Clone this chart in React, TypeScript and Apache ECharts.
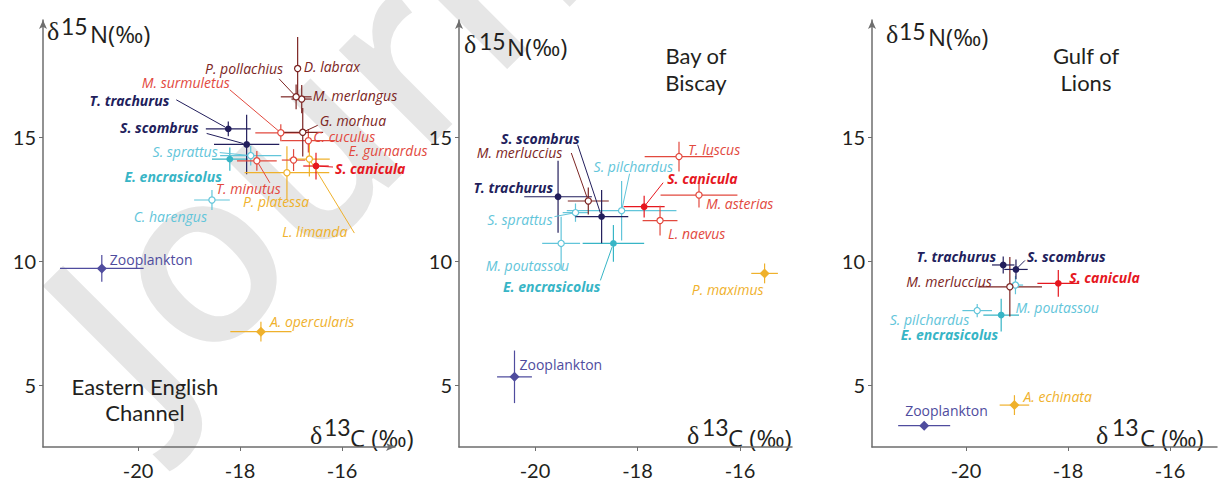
import React, { useEffect, useRef } from "react";
import * as echarts from "echarts";

// ---------- Data: Eastern English Channel ----------
const eecSpecies = ["Zooplankton", "A. opercularis", "C. harengus", "E. encrasicolus", "S. sprattus", "T. trachurus", "S. scombrus", "T. minutus", "P. platessa", "E. gurnardus", "L. limanda", "S. canicula", "C. cuculus", "M. surmuletus", "G. morhua", "M. merlangus", "P. pollachius", "D. labrax"];
const eecC13 = [-20.71, -17.59, -18.55, -18.2, -17.79, -18.23, -17.87, -17.67, -17.08, -16.95, -16.64, -16.51, -16.66, -17.2, -16.77, -16.79, -16.9, -16.87];
const eecN15 = [9.7, 7.15, 12.46, 14.11, 14.25, 15.33, 14.7, 14.04, 13.56, 14.07, 14.11, 13.83, 14.85, 15.17, 15.19, 16.53, 16.62, 17.76];
const eecSdC = [0.82, 0.6, 0.35, 0.35, 0.6, 0.44, 0.64, 0.39, 0.83, 0.23, 0.4, 0.25, 0.53, 0.5, 0.4, 0.2, 0.3, 0.0];
const eecSdN = [0.54, 0.4, 0.4, 0.47, 0.4, 0.3, 1.2, 0.4, 1.07, 0.44, 0.7, 0.54, 0.47, 0.34, 0.98, 0.57, 0.5, 1.27];

// ---------- Data: Bay of Biscay ----------
const bobSpecies = ["Zooplankton", "P. maximus", "M. poutassou", "E. encrasicolus", "S. sprattus", "S. pilchardus", "T. trachurus", "M. merluccius", "S. scombrus", "S. canicula", "L. naevus", "M. asterias", "T. luscus"];
const bobC13 = [-20.4, -15.52, -19.49, -18.47, -19.21, -18.31, -19.55, -18.96, -18.7, -17.87, -17.56, -16.8, -17.19];
const bobN15 = [5.33, 9.5, 10.71, 10.71, 11.95, 12.03, 12.59, 12.42, 11.79, 12.19, 11.63, 12.66, 14.21];
const bobSdC = [0.34, 0.26, 0.37, 0.6, 0.25, 1.07, 0.66, 0.4, 0.52, 0.4, 0.34, 0.75, 0.67];
const bobSdN = [1.06, 0.4, 1.07, 0.74, 0.37, 1.2, 1.45, 0.54, 1.07, 0.44, 0.6, 0.5, 0.6];

// ---------- Data: Gulf of Lions ----------
const golSpecies = ["Zooplankton", "A. echinata", "E. encrasicolus", "S. pilchardus", "M. poutassou", "M. merluccius", "S. canicula", "T. trachurus", "S. scombrus"];
const golC13 = [-20.82, -19.05, -19.31, -19.78, -19.03, -19.14, -18.19, -19.27, -19.02];
const golN15 = [3.36, 4.19, 7.82, 8.0, 9.03, 8.96, 9.1, 9.84, 9.66];
const golSdC = [0.51, 0.29, 0.35, 0.29, 0.15, 0.63, 0.41, 0.22, 0.23];
const golSdN = [0.0, 0.4, 0.66, 0.27, 0.37, 1.2, 0.54, 0.34, 0.4];

// ---------- Tick labels ----------
const xTicks = [-20, -18, -16];
const yTicks = [5, 10, 15];
const regionNames = [["Eastern English", "Channel"], ["Bay of", "Biscay"], ["Gulf of", "Lions"]];

// ---------- Styles ----------
const NAVY = "#221e5c";
const BROWN = "#7c2523";
const RED = "#e2493e";
const CANICULA = "#e6171f";
const LIGHTBLUE = "#62c5da";
const TEAL = "#37b5c6";
const GOLD = "#efb12c";
const PURPLE = "#4f4c9e";

type Sty = { color: string; marker: "open" | "dot" | "diamond"; bold?: boolean; plain?: boolean };
const speciesStyle: Record<string, Sty> = {
  "Zooplankton": { color: PURPLE, marker: "diamond", plain: true },
  "A. opercularis": { color: GOLD, marker: "diamond" },
  "A. echinata": { color: GOLD, marker: "diamond" },
  "P. maximus": { color: GOLD, marker: "diamond" },
  "P. platessa": { color: GOLD, marker: "open" },
  "L. limanda": { color: GOLD, marker: "open" },
  "C. harengus": { color: LIGHTBLUE, marker: "open" },
  "S. sprattus": { color: LIGHTBLUE, marker: "open" },
  "S. pilchardus": { color: LIGHTBLUE, marker: "open" },
  "M. poutassou": { color: LIGHTBLUE, marker: "open" },
  "E. encrasicolus": { color: TEAL, marker: "dot", bold: true },
  "T. trachurus": { color: NAVY, marker: "dot", bold: true },
  "S. scombrus": { color: NAVY, marker: "dot", bold: true },
  "S. canicula": { color: CANICULA, marker: "dot", bold: true },
  "T. minutus": { color: RED, marker: "open" },
  "E. gurnardus": { color: RED, marker: "open" },
  "C. cuculus": { color: RED, marker: "open" },
  "M. surmuletus": { color: RED, marker: "open" },
  "T. luscus": { color: RED, marker: "open" },
  "M. asterias": { color: RED, marker: "open" },
  "L. naevus": { color: RED, marker: "open" },
  "G. morhua": { color: BROWN, marker: "open" },
  "M. merlangus": { color: BROWN, marker: "open" },
  "P. pollachius": { color: BROWN, marker: "open" },
  "D. labrax": { color: BROWN, marker: "open" },
  "M. merluccius": { color: BROWN, marker: "open" },
};

// label layout: [dx, dy, align, leader start offset]
type Lab = [number, number, string, number[]?];
const eecLabels: Record<string, Lab> = {
  "Zooplankton": [8, -9, "left"],
  "A. opercularis": [9, -10, "left"],
  "C. harengus": [-5, 17, "right"],
  "E. encrasicolus": [-8, 17, "right"],
  "S. sprattus": [-33, -4, "right", [-31, -3]],
  "T. trachurus": [-59, -28, "right", [-52, -29]],
  "S. scombrus": [-48, -17, "right", [-40, -11]],
  "T. minutus": [24, 28, "right", [13, 22]],
  "P. platessa": [-44, 29, "left"],
  "E. gurnardus": [55, -10, "left"],
  "L. limanda": [38, 72, "right", [45, 74]],
  "S. canicula": [19, 2, "left", [17, 1]],
  "C. cuculus": [5, -4, "left"],
  "M. surmuletus": [-51, -50, "right", [-51, -43]],
  "G. morhua": [17, -12, "left", [15, -7]],
  "M. merlangus": [11, -4, "left"],
  "P. pollachius": [-13, -28, "right", [-17, -18]],
  "D. labrax": [6, -2, "left"],
};
const bobLabels: Record<string, Lab> = {
  "Zooplankton": [5, -12, "left"],
  "P. maximus": [-1, 16, "right"],
  "M. poutassou": [8, 22, "right"],
  "E. encrasicolus": [-13, 43, "right", [-13, 37]],
  "S. sprattus": [-23, 7, "right", [-21, 4]],
  "S. pilchardus": [-28, -44, "left", [8, -37]],
  "T. trachurus": [-5, -9, "right"],
  "M. merluccius": [-26, -48, "right", [-17, -48]],
  "S. scombrus": [-22, -78, "right", [-24, -72]],
  "S. canicula": [23, -28, "left", [19, -24]],
  "L. naevus": [8, 13, "left"],
  "M. asterias": [7, 8, "left"],
  "T. luscus": [9, -7, "left"],
};
const golLabels: Record<string, Lab> = {
  "Zooplankton": [-19, -15, "left"],
  "A. echinata": [9, -9, "left"],
  "E. encrasicolus": [-3, 19, "right"],
  "S. pilchardus": [-8, 9, "right"],
  "M. poutassou": [0, 22, "left"],
  "M. merluccius": [-18, -5, "right"],
  "S. canicula": [11, -6, "left"],
  "T. trachurus": [-7, -8, "right"],
  "S. scombrus": [11, -13, "left", [9, -9]],
};

const panels = [
  { sp: eecSpecies, c: eecC13, n: eecN15, sc: eecSdC, sn: eecSdN, labels: eecLabels, grid: { left: 43, top: 20, width: 352, height: 427 }, xMin: -21.863, xMax: -14.961, arrow: true },
  { sp: bobSpecies, c: bobC13, n: bobN15, sc: bobSdC, sn: bobSdN, labels: bobLabels, grid: { left: 459, top: 20, width: 333, height: 427 }, xMin: -21.483, xMax: -14.985, arrow: false },
  { sp: golSpecies, c: golC13, n: golN15, sc: golSdC, sn: golSdN, labels: golLabels, grid: { left: 872, top: 20, width: 345, height: 427 }, xMin: -21.843, xMax: -15.078, arrow: false },
];

const FONT = "Lato";
const LFONT = "'Open Sans'";
const AXIS_COLOR = "#6e6e6e";
const TEXT = "#231f20";

function buildOption() {
  const grids: any[] = [];
  const xAxes: any[] = [];
  const yAxes: any[] = [];
  const series: any[] = [];
  panels.forEach((p, i) => {
    grids.push({ ...p.grid, containLabel: false });
    xAxes.push({
      type: "value", gridIndex: i, min: p.xMin, max: p.xMax,
      axisLine: { show: true, onZero: false, lineStyle: { color: AXIS_COLOR, width: 1.5 }, symbol: p.arrow ? ["none", "arrow"] : ["none", "none"], symbolSize: [6, 9] },
      axisTick: { show: true, length: 4, customValues: xTicks, lineStyle: { color: AXIS_COLOR } },
      axisLabel: { customValues: xTicks, fontSize: 20, fontFamily: FONT, color: TEXT, margin: 13 },
      splitLine: { show: false },
    });
    yAxes.push({
      type: "value", gridIndex: i, min: 2.5, max: 19.718,
      axisLine: { show: true, onZero: false, lineStyle: { color: AXIS_COLOR, width: 1.5 }, symbol: ["none", "arrow"], symbolSize: [6, 9] },
      axisTick: { show: true, length: 4, customValues: yTicks, lineStyle: { color: AXIS_COLOR } },
      axisLabel: { customValues: yTicks, fontSize: 20, fontFamily: FONT, color: TEXT, margin: 7 },
      splitLine: { show: false },
    });
    const data = p.sp.map((_, k) => [p.c[k], p.n[k], p.sc[k], p.sn[k]]);
    // error bars
    series.push({
      type: "custom", xAxisIndex: i, yAxisIndex: i, data, clip: false, silent: true, z: 2,
      renderItem: (params: any, api: any) => {
        const name = p.sp[params.dataIndex];
        const col = speciesStyle[name].color;
        const x = api.value(0), y = api.value(1), sx = api.value(2), sy = api.value(3);
        const l = api.coord([x - sx, y]), r = api.coord([x + sx, y]);
        const t = api.coord([x, y + sy]), b = api.coord([x, y - sy]);
        const children: any[] = [];
        if (sx > 0) children.push({ type: "line", shape: { x1: l[0], y1: l[1], x2: r[0], y2: r[1] }, style: { stroke: col, lineWidth: 1.2 } });
        if (sy > 0) children.push({ type: "line", shape: { x1: t[0], y1: t[1], x2: b[0], y2: b[1] }, style: { stroke: col, lineWidth: 1.2 } });
        return { type: "group", children };
      },
    });
    // leaders + labels
    series.push({
      type: "custom", xAxisIndex: i, yAxisIndex: i, data, clip: false, silent: true, z: 3,
      renderItem: (params: any, api: any) => {
        const name = p.sp[params.dataIndex];
        const st = speciesStyle[name];
        const lab = p.labels[name];
        const c = api.coord([api.value(0), api.value(1)]);
        const children: any[] = [];
        if (lab[3]) {
          const sx = c[0] + lab[3][0], sy = c[1] + lab[3][1];
          const dx = sx - c[0], dy = sy - c[1];
          const d = Math.sqrt(dx * dx + dy * dy) || 1;
          children.push({ type: "line", shape: { x1: sx, y1: sy, x2: c[0] + (dx / d) * 3.5, y2: c[1] + (dy / d) * 3.5 }, style: { stroke: st.color, lineWidth: 1 } });
        }
        const font = st.plain ? `14px ${LFONT}` : st.bold ? `italic bold 14px ${LFONT}` : `italic 14px ${LFONT}`;
        children.push({ type: "text", style: { x: c[0] + lab[0], y: c[1] + lab[1], text: name, fill: st.color, font, textAlign: lab[2], textVerticalAlign: "middle" } });
        return { type: "group", children };
      },
    });
    // markers
    series.push({
      type: "custom", xAxisIndex: i, yAxisIndex: i, data, clip: false, silent: true, z: 4,
      renderItem: (params: any, api: any) => {
        const name = p.sp[params.dataIndex];
        const st = speciesStyle[name];
        const c = api.coord([api.value(0), api.value(1)]);
        if (st.marker === "diamond") {
          return { type: "polygon", shape: { points: [[c[0], c[1] - 5], [c[0] + 5, c[1]], [c[0], c[1] + 5], [c[0] - 5, c[1]]] }, style: { fill: st.color } };
        }
        if (st.marker === "dot") return { type: "circle", shape: { cx: c[0], cy: c[1], r: 3.4 }, style: { fill: st.color } };
        return { type: "circle", shape: { cx: c[0], cy: c[1], r: 3.1 }, style: { fill: "#fff", stroke: st.color, lineWidth: 1.2 } };
      },
    });
  });

  const graphic: any[] = [];
  // watermark
  graphic.push({ type: "text", x: 170, y: 445, rotation: Math.PI / 4, z: -100, silent: true, style: { text: "Journal Pre-proof", font: `600 245px 'Open Sans'`, fill: "#e6e6e6", textAlign: "left", textVerticalAlign: "bottom" } });

  const title = (dX: number, supX: number, restX: number, base: number, supBase: number, sup: string, rest: string) => {
    graphic.push({ type: "text", style: { x: dX, y: base, text: "δ", font: `26px 'Liberation Serif'`, fill: TEXT, textAlign: "left", textVerticalAlign: "bottom" } });
    graphic.push({ type: "text", style: { x: supX, y: supBase, text: sup, font: `23px ${FONT}`, fill: TEXT, textAlign: "left", textVerticalAlign: "bottom" } });
    graphic.push({ type: "text", style: { x: restX, y: base + 1, text: rest, font: `24px ${LFONT}`, fill: TEXT, textAlign: "left", textVerticalAlign: "bottom" } });
  };
  // y titles
  title(47, 61, 90, 44, 37, "15", "N(‰)");
  title(464, 479, 507, 57, 52, "15", "N(‰)");
  title(886, 899, 928, 47, 42, "15", "N(‰)");
  // x titles
  title(310, 324, 350, 448, 438, "13", "C (‰)");
  title(687, 702, 728, 448, 438, "13", "C (‰)");
  title(1096, 1112, 1140, 448, 438, "13", "C (‰)");

  // region names
  const region = (cx: number, y1: number, y2: number, lines: string[]) => {
    graphic.push({ type: "text", style: { x: cx, y: y1, text: lines[0], font: `22px ${FONT}`, fill: TEXT, textAlign: "center", textVerticalAlign: "middle" } });
    graphic.push({ type: "text", style: { x: cx, y: y2, text: lines[1], font: `22px ${FONT}`, fill: TEXT, textAlign: "center", textVerticalAlign: "middle" } });
  };
  region(145, 386, 412, regionNames[0]);
  region(696, 55, 82, regionNames[1]);
  region(1086, 55, 82, regionNames[2]);

  return {
    animation: false,
    backgroundColor: "#fff",
    grid: grids,
    xAxis: xAxes,
    yAxis: yAxes,
    series,
    graphic,
  };
}

export default function App() {
  const ref = useRef<HTMLDivElement>(null);
  useEffect(() => {
    document.body.style.margin = "0";
    const chart = echarts.init(ref.current!, null, { renderer: "svg" });
    chart.setOption(buildOption() as any);
    return () => chart.dispose();
  }, []);
  return <div ref={ref} style={{ width: 1220, height: 482, position: "absolute", left: 0, top: 0, background: "#fff" }} />;
}
